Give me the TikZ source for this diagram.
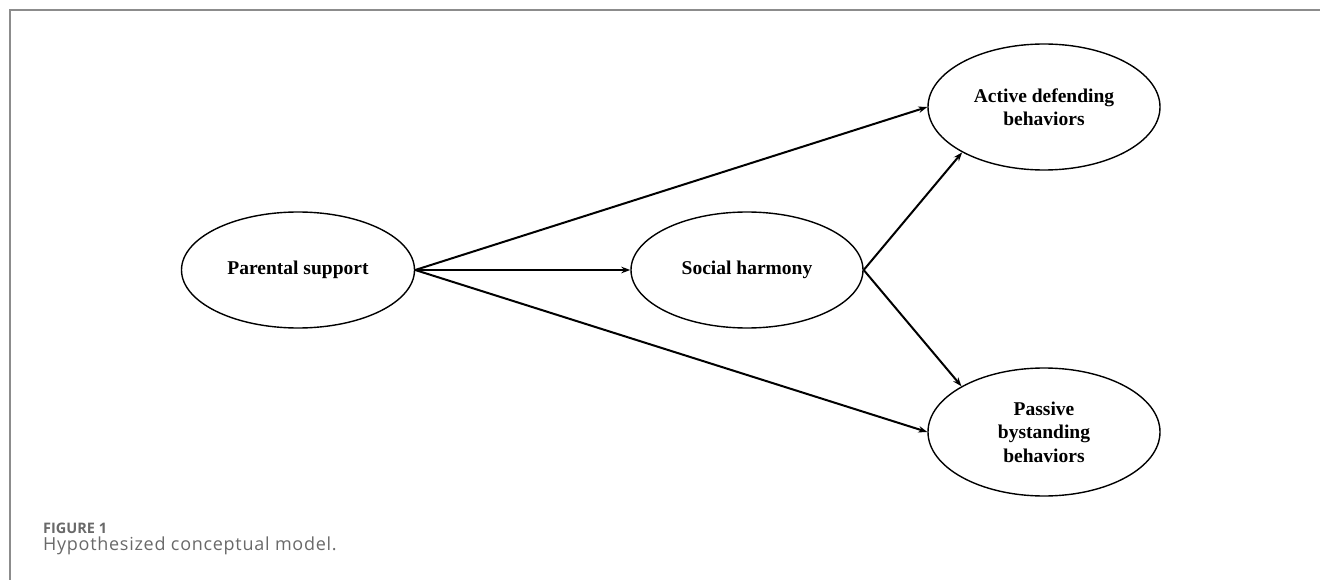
\documentclass[tikz,border=0pt]{standalone}
\usepackage{fontspec}
\setmainfont{Liberation Serif}
\newfontfamily\capfont{Open Sans}
\usetikzlibrary{shapes.geometric,arrows.meta}
\tikzset{>={Stealth[length=9pt,width=6.5pt]}}
\definecolor{framegray}{RGB}{140,140,140}
\definecolor{captiongray}{RGB}{105,105,105}
\tikzset{
  construct/.style={draw,ellipse,line width=1.4pt,inner sep=0pt,align=center,
    font=\fontsize{19.5}{23.5}\selectfont\bfseries},
  path/.style={->,line width=2pt},
}

\begin{document}
\begin{tikzpicture}[x=1pt,y=-1pt]
\useasboundingbox (0,0) rectangle (1320,580);
\draw[framegray,line width=2pt] (10,580) -- (10,10) -- (1320,10);
\node[construct,minimum width=233pt,minimum height=116pt] (ps) at (298,270) {Parental support};
\node[construct,minimum width=232pt,minimum height=116pt] (sh) at (747,270) {Social harmony};
\node[construct,minimum width=232pt,minimum height=126pt] (ad) at (1044,107) {Active defending\\behaviors};
\node[construct,minimum width=232pt,minimum height=128pt] (pb) at (1044,432) {Passive\\bystanding\\behaviors};
\draw[path] (ps.east) -- (ad.west);
\draw[path] (ps.east) -- (sh.west);
\draw[path] (ps.east) -- (pb.west);
\draw[path] (sh.east) -- (ad.209);
\draw[path] (sh.east) -- (pb.151);
\node[anchor=base west,inner sep=0pt,text=captiongray,font=\capfont\bfseries\fontsize{14.5}{18}\selectfont] (fig) at (43,533) {FIGURE 1};
\node[anchor=base west,inner sep=0pt,text=captiongray,font=\capfont\fontsize{18}{21}\selectfont\addfontfeature{LetterSpace=4}] (cap) at (43,550) {Hypothesized conceptual model.};
\end{tikzpicture}
\end{document}
